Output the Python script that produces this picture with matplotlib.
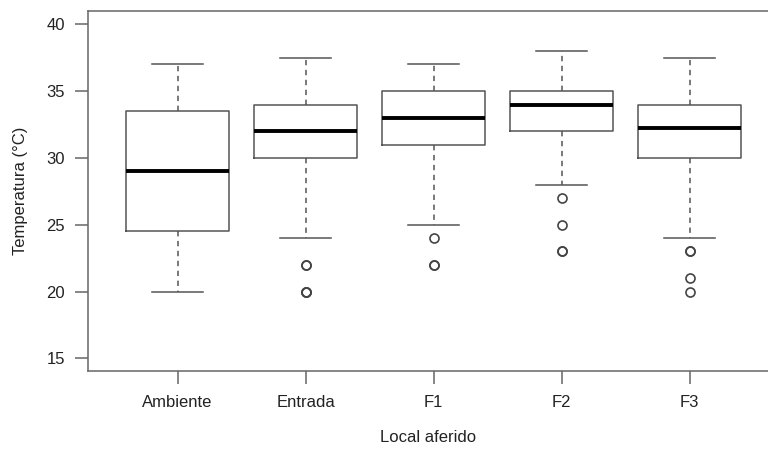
import matplotlib
matplotlib.use('Agg')
import matplotlib.pyplot as plt

plt.rcParams['font.family'] = ['Liberation Sans', 'DejaVu Sans']

# Box statistics
locais = ['Ambiente', 'Entrada', 'F1', 'F2', 'F3']
whisker_low = [20, 24, 25, 28, 24]
q1 = [24.5, 30, 31, 32, 30]
median = [29, 32, 33, 34, 32.25]
q3 = [33.5, 34, 35, 35, 34]
whisker_high = [37, 37.5, 37, 38, 37.5]
# repeated values = overlapping points (drawn darker)
outliers = [
    [],
    [22, 22, 20, 20, 20],
    [24, 22, 22],
    [27, 25, 23, 23],
    [23, 23, 21, 20],
]

stats = []
for i, nome in enumerate(locais):
    stats.append({
        'label': nome,
        'whislo': whisker_low[i],
        'q1': q1[i],
        'med': median[i],
        'q3': q3[i],
        'whishi': whisker_high[i],
        'fliers': outliers[i],
    })

fig = plt.figure(figsize=(7.68, 4.5), dpi=100)
ax = fig.add_axes([88 / 768, 79 / 450, (768 - 88) / 768, 360 / 450])

line_col = '#555555'
ax.bxp(stats, positions=range(1, 6), widths=0.8, patch_artist=False,
       boxprops=dict(color=line_col, linewidth=1.1),
       medianprops=dict(color='black', linewidth=2.8, solid_capstyle='butt'),
       whiskerprops=dict(color=line_col, linewidth=1.1, linestyle=(0, (3.5, 3))),
       capprops=dict(color=line_col, linewidth=1.1),
       capwidths=0.4,
       flierprops=dict(marker='o', markersize=6.5, markerfacecolor='none',
                       markeredgecolor='#444444', markeredgewidth=1.2,
                       linestyle='none'))

ax.set_xlim(0.3, 0.3 + (768 - 88) / 128)
ax.set_ylim(14.05, 41.0)
ax.set_yticks([15, 20, 25, 30, 35, 40])
ax.set_xticks(range(1, 6))
ax.set_xticklabels(locais)

for side in ['left', 'bottom', 'top']:
    ax.spines[side].set_color('#666666')
    ax.spines[side].set_linewidth(1.1)
ax.spines['right'].set_visible(False)

ax.tick_params(axis='both', direction='out', length=9.5, width=1.1,
               color='#666666', labelsize=12, labelcolor='#222222')
ax.tick_params(axis='y', pad=7)
ax.tick_params(axis='x', pad=8)

ax.set_ylabel('Temperatura (°C)', fontsize=12, color='#222222', labelpad=13)
ax.set_xlabel('Local aferido', fontsize=12, color='#222222', labelpad=14)

fig.savefig('out.png', dpi=100)
